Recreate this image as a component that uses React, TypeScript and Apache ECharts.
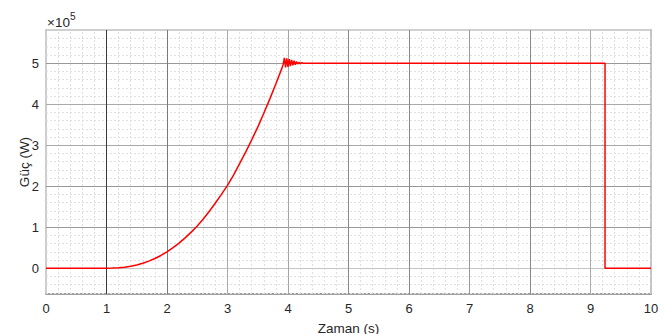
import React, { useEffect, useRef } from "react";
import * as echarts from "echarts";

// time (s)
const timeS: number[] = [
  0, 1.0, 1.1, 1.2, 1.3, 1.4, 1.5, 1.6, 1.7, 1.8, 1.9, 2.0, 2.1, 2.2, 2.3, 2.4, 2.5,
  2.6, 2.7, 2.8, 2.9, 3.0, 3.1, 3.2, 3.3, 3.4, 3.5, 3.6, 3.7, 3.8, 3.9, 3.92,
  3.94, 3.96, 3.98, 4.0, 4.02, 4.04, 4.06, 4.08, 4.1, 4.12, 4.14, 4.16, 4.18,
  4.2, 4.22, 4.26, 9.24, 9.24, 10,
];
// power (x 1e5 W)
const powerW: number[] = [
  0, 0, 0.002, 0.009, 0.024, 0.046, 0.078, 0.12, 0.172, 0.237, 0.31, 0.40, 0.5,
  0.61, 0.74, 0.88, 1.03, 1.2, 1.39, 1.59, 1.8, 2.02, 2.27, 2.55, 2.83, 3.13,
  3.44, 3.78, 4.13, 4.5, 4.88, 4.97, 5.13, 4.9, 5.12, 4.91, 5.1, 4.93, 5.08,
  4.95, 5.06, 4.96, 5.04, 4.98, 5.02, 4.99, 5.01, 5.0, 5.0, 0, 0,
];

const xTicks: number[] = [0, 1, 2, 3, 4, 5, 6, 7, 8, 9, 10];
const yMajorTicks: number[] = [0, 1, 2, 3, 4, 5];
const yMinorTicks: number[] = [
  -0.6, -0.4, -0.2, 0.2, 0.4, 0.6, 0.8, 1.2, 1.4, 1.6, 1.8, 2.2, 2.4, 2.6, 2.8,
  3.2, 3.4, 3.6, 3.8, 4.2, 4.4, 4.6, 4.8, 5.2, 5.4, 5.6,
];
const yMin = -0.63;
const yMax = 5.81;

const FONT = "'Liberation Sans', Arial, Helvetica, sans-serif";
const TXT = "#262626";
const MINOR = { color: "#e0e0e0", width: 1, type: [2, 2] as number[] };

export default function App() {
  const ref = useRef<HTMLDivElement>(null);
  useEffect(() => {
    if (!ref.current) return;
    const chart = echarts.init(ref.current, undefined, { renderer: "svg" });
    const vColors: Record<number, string> = {
      1: "#3a3a3a", 2: "#7a7a7a", 3: "#aaa", 4: "#a5a5a5", 5: "#8a8a8a",
      6: "#8a8a8a", 7: "#999", 8: "#888", 9: "#aaa",
    };
    const hColors: Record<number, string> = { 0: "#c4c4c4", 1: "#999", 2: "#999", 3: "#a8a8a8", 4: "#aaa", 5: "#999" };
    const xMinor: number[] = [];
    for (let i = 0; i < xTicks.length - 1; i++) {
      for (let k = 1; k < 5; k++) xMinor.push(+(xTicks[i] + (k * (xTicks[i + 1] - xTicks[i])) / 5).toFixed(2));
    }
    const gridLines: any[] = [
      ...xMinor.map((v) => ({ xAxis: v, lineStyle: { ...MINOR } })),
      ...yMinorTicks.map((v) => ({ yAxis: v, lineStyle: { ...MINOR } })),
      ...yMajorTicks.map((v) => ({
        yAxis: v,
        lineStyle: { color: hColors[v], width: 1, type: "solid" },
      })),
      ...xTicks
        .filter((v) => vColors[v])
        .map((v) => ({ xAxis: v, lineStyle: { color: vColors[v], width: 1, type: "solid" } })),
    ];
    chart.setOption({
      animation: false,
      backgroundColor: "#ffffff",
      grid: {
        left: 46,
        right: 20,
        top: 30,
        bottom: 40,
        containLabel: false,
        outerBoundsMode: "none",
      },
      xAxis: [
        {
          type: "value",
          min: 0,
          max: 10,
          interval: 1,
          name: "Zaman (s)",
          nameLocation: "middle",
          nameGap: 27,
          nameMoveOverlap: false,
          nameTextStyle: { color: TXT, fontFamily: FONT, fontSize: 13.5 },
          axisLine: { show: true, onZero: false, lineStyle: { color: "#808080", width: 1.5 } },
          axisTick: { show: false },
          axisLabel: {
            color: TXT,
            fontFamily: FONT,
            fontSize: 13,
            margin: 8,
            customValues: xTicks,
          },
          splitLine: { show: false },
        },
        {
          type: "value",
          position: "top",
          min: 0,
          max: 10,
          axisLine: { show: true, onZero: false, lineStyle: { color: "#c0c0c0", width: 1.5 } },
          axisTick: { show: false },
          axisLabel: { show: false },
          splitLine: { show: false },
        },
      ],
      yAxis: [
        {
          type: "value",
          min: yMin,
          max: yMax,
          name: "Güç (W)",
          nameLocation: "middle",
          nameGap: 15,
          nameMoveOverlap: false,
          nameTextStyle: { color: TXT, fontFamily: FONT, fontSize: 13.5 },
          axisLine: { show: true, onZero: false, lineStyle: { color: "#bdbdbd", width: 1.5 } },
          axisTick: { show: false },
          axisLabel: {
            color: TXT,
            fontFamily: FONT,
            fontSize: 13,
            margin: 7,
            customValues: yMajorTicks,
            formatter: (v: number) => (Number.isInteger(v) ? String(v) : ""),
          },
          splitLine: { show: false },
        },
        {
          type: "value",
          position: "right",
          min: yMin,
          max: yMax,
          axisLine: { show: true, onZero: false, lineStyle: { color: "#c4c4c4", width: 2 } },
          axisTick: { show: false },
          axisLabel: { show: false },
          splitLine: { show: false },
        },
      ],
      graphic: [
        {
          type: "text",
          left: 47,
          top: 11,
          style: {
            text: "{a|×10}{b|5}",
            rich: {
              a: { fontFamily: FONT, fontSize: 13.5, fill: TXT, verticalAlign: "bottom", lineHeight: 18 },
              b: { fontFamily: FONT, fontSize: 10, fill: TXT, verticalAlign: "top", lineHeight: 10, padding: [0, 0, 6, 0] },
            },
          },
        },
      ],
      series: [
        {
          type: "line",
          name: "grid",
          data: [],
          silent: true,
          z: 1,
          markLine: {
            silent: true,
            symbol: "none",
            label: { show: false },
            animation: false,
            data: gridLines,
          },
        },
        {
          type: "line",
          name: "Güç",
          z: 5,
          showSymbol: false,
          symbol: "none",
          data: timeS.map((t, i) => [t, powerW[i]]),
          lineStyle: { color: "#ff0000", width: 1.5 },
          itemStyle: { color: "#ff0000" },
        },
      ],
    });
    return () => chart.dispose();
  }, []);
  return (
    <div
      ref={ref}
      style={{ position: "absolute", left: 0, top: 0, width: 671, height: 334 }}
    />
  );
}
